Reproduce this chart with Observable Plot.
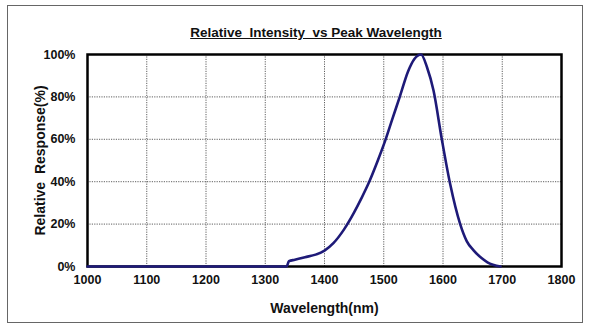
<!DOCTYPE html>
<html>
<head>
<meta charset="utf-8">
<script src="https://cdn.jsdelivr.net/npm/d3@7"></script>
<script src="https://cdn.jsdelivr.net/npm/@observablehq/plot@0.6"></script>
<style>
  html, body { margin: 0; padding: 0; background: #fff; }
  #wrap { position: relative; width: 592px; height: 329px; overflow: hidden; font-family: "Liberation Sans", Arial, sans-serif; }
  #border { position: absolute; left: 7px; top: 5px; width: 576px; height: 318px; border: 1.5px solid #666; box-sizing: border-box; pointer-events: none; }
  #title { position: absolute; left: 0; width: 632px; top: 25px; text-align: center; font-weight: bold; font-size: 13.5px; text-decoration: underline; color: #111; }
  #chart { position: absolute; left: 0; top: 0; }
</style>
</head>
<body>
<div id="wrap">
  <div id="chart"></div>
  <div id="border"></div>
  <div id="title">Relative&nbsp; Intensity&nbsp; vs Peak Wavelength</div>
</div>
<script>
const wavelength = [1000, 1336, 1340, 1350, 1367, 1385, 1400, 1415, 1433, 1450, 1462, 1474, 1490, 1502, 1515, 1527, 1541, 1552, 1563, 1573, 1584, 1598, 1612, 1629, 1640, 1652, 1665, 1675, 1697];
const response   = [0,    0,    2.5,  3.2,  4.4,  5.6,  7.5,  11,   17.5, 25.5, 32,   39,   50,   59,   70,   80,   92,   98,   100,  94,   83,   60,   39,   20,   12,   7.5,  4,    2,    0];
const xTicks = [1000, 1100, 1200, 1300, 1400, 1500, 1600, 1700, 1800];
const yTicks = [0, 20, 40, 60, 80, 100];

const data = wavelength.map((w, i) => ({w, r: response[i]}));

const chart = Plot.plot({
  width: 592,
  height: 329,
  marginLeft: 87,
  marginRight: 31,
  marginTop: 54,
  marginBottom: 63,
  style: { fontFamily: "'Liberation Sans', Arial, sans-serif", fontSize: "13px", fontWeight: "bold", color: "#111", background: "transparent" },
  x: { domain: [1000, 1800], ticks: xTicks, label: "Wavelength(nm)" },
  y: { domain: [0, 100], ticks: yTicks, label: "Relative  Response(%)" },
  marks: [
    Plot.gridX(xTicks, { stroke: "#222", strokeOpacity: 0.9, strokeWidth: 0.8, strokeDasharray: "1.2,1.2" }),
    Plot.gridY(yTicks, { stroke: "#222", strokeOpacity: 0.9, strokeWidth: 0.8, strokeDasharray: "1.2,1.2" }),
    Plot.frame({ stroke: "#000", strokeWidth: 2.5 }),
    Plot.axisX(xTicks, { tickSize: 0, tickPadding: 9, fontSize: 12.5, fontWeight: "bold", tickFormat: d3.format("d"), label: null }),
    Plot.axisX({ ticks: [], tickSize: 0, fontSize: 14, fontWeight: "bold", label: "Wavelength(nm)", labelAnchor: "center", labelArrow: "none", labelOffset: 46 }),
    Plot.axisY(yTicks, { tickSize: 0, tickPadding: 12, fontSize: 12.5, fontWeight: "bold", tickFormat: d => d + "%", label: null }),
    Plot.axisY({ ticks: [], tickSize: 0, fontSize: 14, fontWeight: "bold", label: "Relative  Response(%)", labelAnchor: "center", labelArrow: "none", labelOffset: 52 }),
    Plot.line(data, { x: "w", y: "r", stroke: "#1e1a78", strokeWidth: 2.6, curve: "monotone-x" })
  ]
});
chart.querySelectorAll("text").forEach(t => t.style.whiteSpace = "pre");
document.getElementById("chart").appendChild(chart);
</script>
</body>
</html>
